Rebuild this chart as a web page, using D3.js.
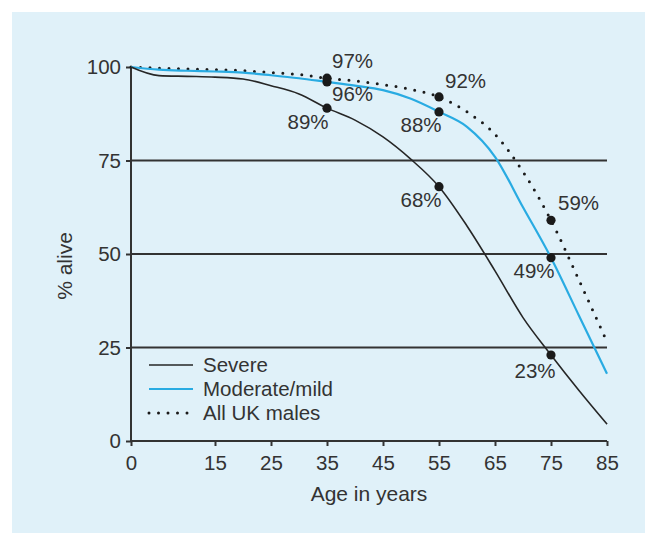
<!DOCTYPE html>
<html>
<head>
<meta charset="utf-8">
<script src="https://cdn.jsdelivr.net/npm/d3@7"></script>
<style>
  html, body { margin: 0; padding: 0; background: #ffffff; }
  svg { display: block; }
  text { font-family: "Liberation Sans", Arial, Helvetica, sans-serif; fill: #333; }
</style>
</head>
<body>
<svg id="chart" width="645" height="534"></svg>
<script>
// ---- data ----
const ages = [0, 5, 10, 15, 20, 25, 30, 35, 40, 45, 50, 55, 60, 65, 70, 75, 80, 85];
const severe = [100, 97.7, 97.5, 97.3, 96.8, 95, 92.8, 89, 85.8, 81.3, 75.3, 68, 57.5, 45.5, 33, 23, 13.5, 4.5];
const moderate = [100, 99.3, 99, 98.8, 98.5, 97.8, 97, 96, 95, 93.8, 91.5, 88, 84, 76, 62.5, 49, 33.5, 18];
const allUK = [100, 99.7, 99.5, 99.3, 99, 98.5, 98, 97, 96.3, 95.3, 94, 92, 88, 82, 72, 59, 43, 26.5];
const markerAges = [35, 55, 75];
const severeMarks = [89, 68, 23];
const moderateMarks = [96, 88, 49];
const allUKMarks = [97, 92, 59];
const xTicks = [0, 15, 25, 35, 45, 55, 65, 75, 85];
const yTicks = [0, 25, 50, 75, 100];
const gridValues = [25, 50, 75];
const seriesNames = ["Severe", "Moderate/mild", "All UK males"];

// ---- layout ----
const svg = d3.select("#chart");
const x = d3.scaleLinear().domain([0, 85]).range([131, 607]);
const y = d3.scaleLinear().domain([0, 100]).range([441, 67]);
const ink = "#333";
const fs = 20.5;

svg.append("rect").attr("x", 12).attr("y", 12).attr("width", 633).attr("height", 521).attr("fill", "#e0f1f9");

// gridlines
svg.append("g").selectAll("line").data(gridValues).join("line")
  .attr("x1", x(0)).attr("x2", x(85))
  .attr("y1", d => y(d)).attr("y2", d => y(d))
  .attr("stroke", ink).attr("stroke-width", 2);

// axes
const xAxis = svg.append("g").attr("transform", `translate(0,${y(0)})`)
  .call(d3.axisBottom(x).tickValues(xTicks).tickSize(5).tickPadding(6).tickFormat(d3.format("d")));
const yAxis = svg.append("g").attr("transform", `translate(${x(0)},0)`)
  .call(d3.axisLeft(y).tickValues(yTicks).tickSize(5).tickPadding(5).tickFormat(d3.format("d")));
[xAxis, yAxis].forEach(g => {
  g.select(".domain").attr("stroke", ink).attr("stroke-width", 2).attr("d",
    g === xAxis ? `M${x(0)},0H${x(85)}` : `M0,${y(0)}V${y(100)}`);
  g.selectAll(".tick line").attr("stroke", ink).attr("stroke-width", 2);
  g.selectAll(".tick text").attr("font-size", fs).attr("fill", ink)
    .attr("font-family", '"Liberation Sans", Arial, sans-serif');
});
xAxis.selectAll(".tick text").attr("dy", "0.9em");

// lines
const line = vals => d3.line().x((d, i) => x(ages[i])).y(d => y(d)).curve(d3.curveMonotoneX)(vals);

svg.append("path").attr("d", line(allUK)).attr("fill", "none")
  .attr("stroke", "#1a1a1a").attr("stroke-width", 3).attr("stroke-linecap", "round")
  .attr("stroke-dasharray", "0,9.5");
svg.append("path").attr("d", line(moderate)).attr("fill", "none")
  .attr("stroke", "#29abe2").attr("stroke-width", 2.2);
svg.append("path").attr("d", line(severe)).attr("fill", "none")
  .attr("stroke", "#262626").attr("stroke-width", 1.6);

// markers and labels
const labelPlacement = {
  severe:   [{dx: -19, dy: 21, a: "middle"}, {dx: -18, dy: 20, a: "middle"}, {dx: -16, dy: 23, a: "middle"}],
  moderate: [{dx: 5, dy: 19, a: "start"}, {dx: -18, dy: 20, a: "middle"}, {dx: -17, dy: 20, a: "middle"}],
  allUK:    [{dx: 5, dy: -10, a: "start"}, {dx: 6, dy: -9, a: "start"}, {dx: 7, dy: -10, a: "start"}]
};
const markSets = [
  {vals: severeMarks, key: "severe"},
  {vals: moderateMarks, key: "moderate"},
  {vals: allUKMarks, key: "allUK"}
];
markSets.forEach(set => {
  set.vals.forEach((v, i) => {
    const cx = x(markerAges[i]), cy = y(v);
    svg.append("circle").attr("cx", cx).attr("cy", cy).attr("r", 4.6).attr("fill", "#1a1a1a");
    const p = labelPlacement[set.key][i];
    svg.append("text").attr("x", cx + p.dx).attr("y", cy + p.dy)
      .attr("text-anchor", p.a).attr("font-size", fs).text(v + "%");
  });
});

// legend
const legendY = [365, 389, 413];
const legendStyles = [
  {stroke: "#262626", w: 1.6, dash: null},
  {stroke: "#29abe2", w: 2.2, dash: null},
  {stroke: "#1a1a1a", w: 3, dash: "0,9.5"}
];
seriesNames.forEach((name, i) => {
  const s = legendStyles[i];
  const l = svg.append("line").attr("x1", 149).attr("x2", 193)
    .attr("y1", legendY[i]).attr("y2", legendY[i])
    .attr("stroke", s.stroke).attr("stroke-width", s.w);
  if (s.dash) l.attr("stroke-dasharray", s.dash).attr("stroke-linecap", "round");
  svg.append("text").attr("x", 203).attr("y", legendY[i]).attr("dy", "0.35em")
    .attr("font-size", fs).text(name);
});

// axis titles
svg.append("text").attr("x", (x(0) + x(85)) / 2).attr("y", 501)
  .attr("text-anchor", "middle").attr("font-size", 21).text("Age in years");
svg.append("text").attr("transform", "translate(72,266) rotate(-90)")
  .attr("text-anchor", "middle").attr("font-size", 21).text("% alive");
</script>
</body>
</html>
